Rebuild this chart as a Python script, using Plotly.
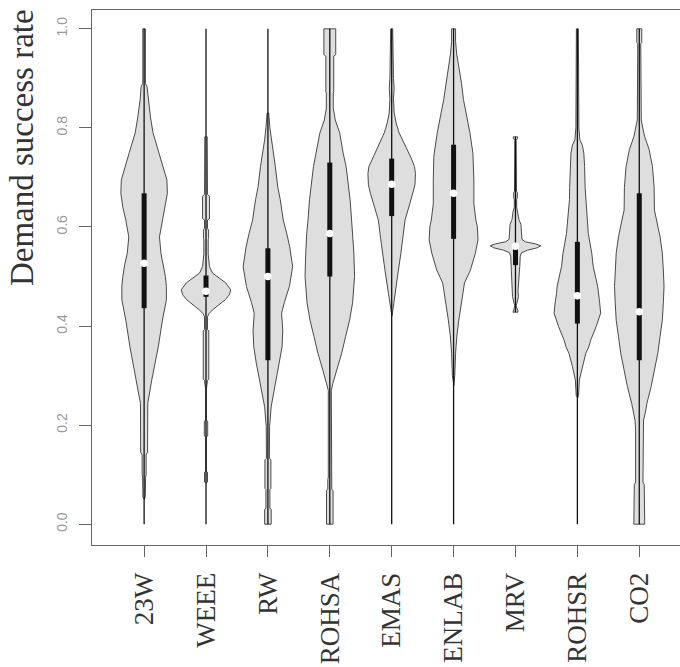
import plotly.graph_objects as go

# Categories and box statistics
categories = ["23W", "WEEE", "RW", "ROHSA", "EMAS", "ENLAB", "MRV", "ROHSR", "CO2"]
q1 = [0.436, 0.459, 0.331, 0.500, 0.622, 0.576, 0.523, 0.405, 0.331]
median = [0.527, 0.470, 0.500, 0.587, 0.686, 0.668, 0.561, 0.461, 0.429]
q3 = [0.668, 0.502, 0.557, 0.730, 0.738, 0.766, 0.562, 0.570, 0.668]
whisker_lo = [0.0, 0.0, 0.0, 0.0, 0.0, 0.0, 0.428, 0.0, 0.0]
whisker_hi = [1.0, 1.0, 1.0, 1.0, 1.0, 1.0, 0.782, 1.0, 1.0]

y_ticks = [0.0, 0.2, 0.4, 0.6, 0.8, 1.0]
y_tick_text = ["0.0", "0.2", "0.4", "0.6", "0.8", "1.0"]

# Kernel density profiles: level and relative density (peak ~25)
dens_23W_y = [0.05, 0.055, 0.095, 0.10, 0.14, 0.145, 0.244, 0.291, 0.358, 0.412, 0.453, 0.48, 0.5, 0.525,
              0.547, 0.58, 0.614, 0.64, 0.668, 0.695, 0.72, 0.75, 0.79, 0.82, 0.857, 0.87, 0.883, 0.89, 1.0]
dens_23W = [0.3, 1.2, 1.5, 2.0, 2.0, 3.5, 3.7, 7.7, 14.3, 18.5, 22.5, 22.5, 21.5, 19.5,
            17.0, 15.5, 18.5, 21.5, 23.5, 23.0, 19.5, 15.0, 9.0, 6.5, 4.0, 3.2, 3.0, 1.3, 1.3]

dens_WEEE_y = [0.083, 0.085, 0.105, 0.107, 0.176, 0.178, 0.208, 0.21, 0.27, 0.29, 0.293, 0.39, 0.393, 0.419,
               0.425, 0.432, 0.443, 0.453, 0.463, 0.473, 0.487, 0.497, 0.507, 0.52, 0.545, 0.574, 0.577,
               0.594, 0.597, 0.614, 0.617, 0.662, 0.666, 0.782]
dens_WEEE = [0.2, 1.5, 1.5, 0.2, 0.2, 1.7, 1.7, 0.2, 0.2, 1.5, 2.8, 2.8, 1.5, 1.5,
             3.0, 6.3, 13.0, 19.5, 23.5, 25.0, 20.0, 13.0, 6.5, 3.5, 2.2, 2.2, 2.6,
             2.6, 1.5, 1.5, 3.5, 3.5, 1.5, 1.2]

dens_RW_y = [0.0, 0.03, 0.032, 0.07, 0.072, 0.13, 0.133, 0.197, 0.237, 0.291, 0.325, 0.358, 0.392,
             0.426, 0.447, 0.48, 0.52, 0.56, 0.587, 0.614, 0.655, 0.68, 0.722, 0.776, 0.80, 0.83]
dens_RW = [3.3, 3.3, 2.0, 2.0, 3.0, 3.0, 1.5, 1.7, 3.3, 8.3, 11.7, 14.3, 15.0,
           13.8, 16.5, 21.7, 25.0, 22.0, 19.0, 15.5, 12.5, 10.0, 7.5, 3.3, 2.0, 0.8]

dens_ROHSA_y = [0.0, 0.068, 0.07, 0.09, 0.095, 0.27, 0.284, 0.311, 0.345, 0.379, 0.412, 0.447, 0.5, 0.547,
                0.587, 0.614, 0.655, 0.68, 0.722, 0.749, 0.79, 0.816, 0.84, 0.87, 0.873, 0.945, 0.948, 1.0]
dens_ROHSA = [3.3, 3.3, 2.0, 2.0, 1.5, 1.5, 3.0, 7.0, 12.0, 16.0, 20.0, 23.0, 25.0, 24.3,
              23.3, 22.0, 20.5, 19.0, 16.5, 13.5, 10.0, 5.5, 3.5, 3.5, 4.0, 4.0, 6.0, 6.0]

dens_EMAS_y = [0.42, 0.447, 0.466, 0.513, 0.547, 0.577, 0.614, 0.647, 0.668, 0.685, 0.708,
               0.722, 0.74, 0.76, 0.79, 0.81, 0.83, 0.86, 0.88, 0.90, 0.95, 1.0]
dens_EMAS = [0.3, 2.0, 3.3, 6.8, 9.3, 11.2, 13.5, 18.3, 21.5, 23.5, 24.0,
             23.0, 19.5, 14.5, 7.5, 4.5, 2.5, 1.8, 2.5, 1.8, 1.3, 1.0]

dens_ENLAB_y = [0.28, 0.30, 0.345, 0.38, 0.412, 0.447, 0.487, 0.513, 0.527, 0.547, 0.574, 0.58, 0.6, 0.614,
                0.647, 0.695, 0.74, 0.749, 0.79, 0.816, 0.857, 0.89, 0.924, 0.951, 0.975, 0.98, 1.0]
dens_ENLAB = [0.3, 1.2, 2.0, 3.3, 5.3, 7.7, 11.0, 17.0, 19.0, 22.0, 24.7, 24.5, 24.0, 22.5,
              20.5, 20.5, 20.0, 19.5, 16.5, 14.0, 10.0, 8.0, 5.0, 3.0, 2.0, 2.0, 2.0]

dens_MRV_y = [0.428, 0.432, 0.438, 0.442, 0.446, 0.46, 0.47, 0.48, 0.493, 0.507, 0.52, 0.54, 0.548, 0.553,
              0.558, 0.562, 0.566, 0.57, 0.575, 0.59, 0.605, 0.615, 0.63, 0.64, 0.656, 0.658, 0.67, 0.672,
              0.775, 0.779, 0.782]
dens_MRV = [2.5, 2.3, 1.0, 0.6, 1.5, 3.0, 2.5, 3.0, 3.5, 4.0, 4.3, 4.8, 6.0, 12.0,
            22.0, 25.5, 20.0, 10.0, 6.5, 6.0, 5.5, 3.5, 2.5, 1.2, 1.2, 1.8, 1.8, 1.0,
            0.6, 2.2, 2.2]

dens_ROHSR_y = [0.255, 0.26, 0.291, 0.318, 0.345, 0.358, 0.372, 0.399, 0.426, 0.447, 0.466, 0.48, 0.52,
                0.547, 0.587, 0.614, 0.655, 0.68, 0.722, 0.749, 0.765, 0.776, 0.80, 0.90, 1.0]
dens_ROHSR = [0.3, 1.2, 2.0, 5.0, 8.5, 11.5, 13.5, 19.0, 23.5, 22.5, 21.0, 20.5, 16.0,
              14.5, 11.0, 10.0, 8.0, 7.8, 7.3, 6.5, 5.0, 2.5, 1.5, 1.5, 1.0]

dens_CO2_y = [0.0, 0.034, 0.036, 0.08, 0.085, 0.19, 0.21, 0.224, 0.244, 0.278, 0.311, 0.345, 0.379, 0.412,
              0.447, 0.48, 0.513, 0.547, 0.58, 0.614, 0.634, 0.68, 0.722, 0.756, 0.782, 0.80, 0.816, 0.97,
              0.972, 1.0]
dens_CO2 = [5.5, 5.5, 5.0, 5.0, 3.7, 3.7, 4.3, 6.0, 7.7, 12.0, 15.3, 18.7, 21.0, 23.3,
            24.3, 25.0, 24.3, 23.3, 21.0, 17.5, 15.3, 15.0, 13.3, 10.0, 5.5, 3.5, 2.0, 1.5,
            2.5, 2.5]

profiles = [
    (dens_23W_y, dens_23W), (dens_WEEE_y, dens_WEEE), (dens_RW_y, dens_RW),
    (dens_ROHSA_y, dens_ROHSA), (dens_EMAS_y, dens_EMAS), (dens_ENLAB_y, dens_ENLAB),
    (dens_MRV_y, dens_MRV), (dens_ROHSR_y, dens_ROHSR), (dens_CO2_y, dens_CO2),
]

# density 25 -> 0.4 category units of half-width
width_scale = 0.4 / 25.0

fig = go.Figure()

# violin bodies
for i, (ys, ds) in enumerate(profiles):
    pos = i + 1
    xs = [pos + d * width_scale for d in ds] + [pos - d * width_scale for d in reversed(ds)]
    yy = list(ys) + list(reversed(ys))
    fig.add_trace(go.Scatter(
        x=xs + [xs[0]], y=yy + [yy[0]], mode="lines", fill="toself",
        fillcolor="#dedede", line=dict(color="#4a4a4a", width=1),
        hoverinfo="skip", showlegend=False,
    ))

# whiskers, boxes and medians
for i in range(len(categories)):
    pos = i + 1
    fig.add_trace(go.Scatter(
        x=[pos, pos], y=[whisker_lo[i], whisker_hi[i]], mode="lines",
        line=dict(color="#111111", width=1.3), hoverinfo="skip", showlegend=False,
    ))
    fig.add_trace(go.Scatter(
        x=[pos, pos], y=[q1[i], q3[i]], mode="lines",
        line=dict(color="#111111", width=5), hoverinfo="skip", showlegend=False,
    ))

fig.add_trace(go.Scatter(
    x=list(range(1, len(categories) + 1)), y=median, mode="markers",
    marker=dict(color="white", size=7.5, line=dict(width=0)),
    hoverinfo="skip", showlegend=False,
))

fig.add_annotation(
    text="Demand success rate", textangle=-90, showarrow=False,
    xref="paper", yref="paper", x=-0.119, y=0.742, xanchor="center", yanchor="middle",
    font=dict(family="Liberation Serif", size=33, color="#333333"),
)

fig.update_layout(
    width=680, height=667,
    margin=dict(l=92, r=0, t=10, b=122),
    paper_bgcolor="white", plot_bgcolor="white",
    showlegend=False, hovermode=False,
    xaxis=dict(
        range=[0.158, 9.658], tickmode="array",
        tickvals=list(range(1, len(categories) + 1)), ticktext=categories,
        tickangle=-90, ticks="outside", ticklen=11, tickcolor="#666666", tickwidth=1,
        showline=True, mirror=True, linecolor="#666666", linewidth=1,
        showgrid=False, zeroline=False, ticklabelstandoff=5, automargin=False,
        tickfont=dict(family="Liberation Serif", size=27, color="#333333"),
    ),
    yaxis=dict(
        range=[-0.042, 1.038], tickmode="array", tickvals=y_ticks, ticktext=y_tick_text,
        tickangle=-90, ticks="outside", ticklen=12, tickcolor="#666666", tickwidth=1,
        showline=True, mirror=False, linecolor="#666666", linewidth=1,
        showgrid=False, zeroline=False, ticklabelstandoff=6, automargin=False,
        tickfont=dict(family="Liberation Sans", size=14, color="#999999"),
    ),
)

fig.write_html("out.html")
